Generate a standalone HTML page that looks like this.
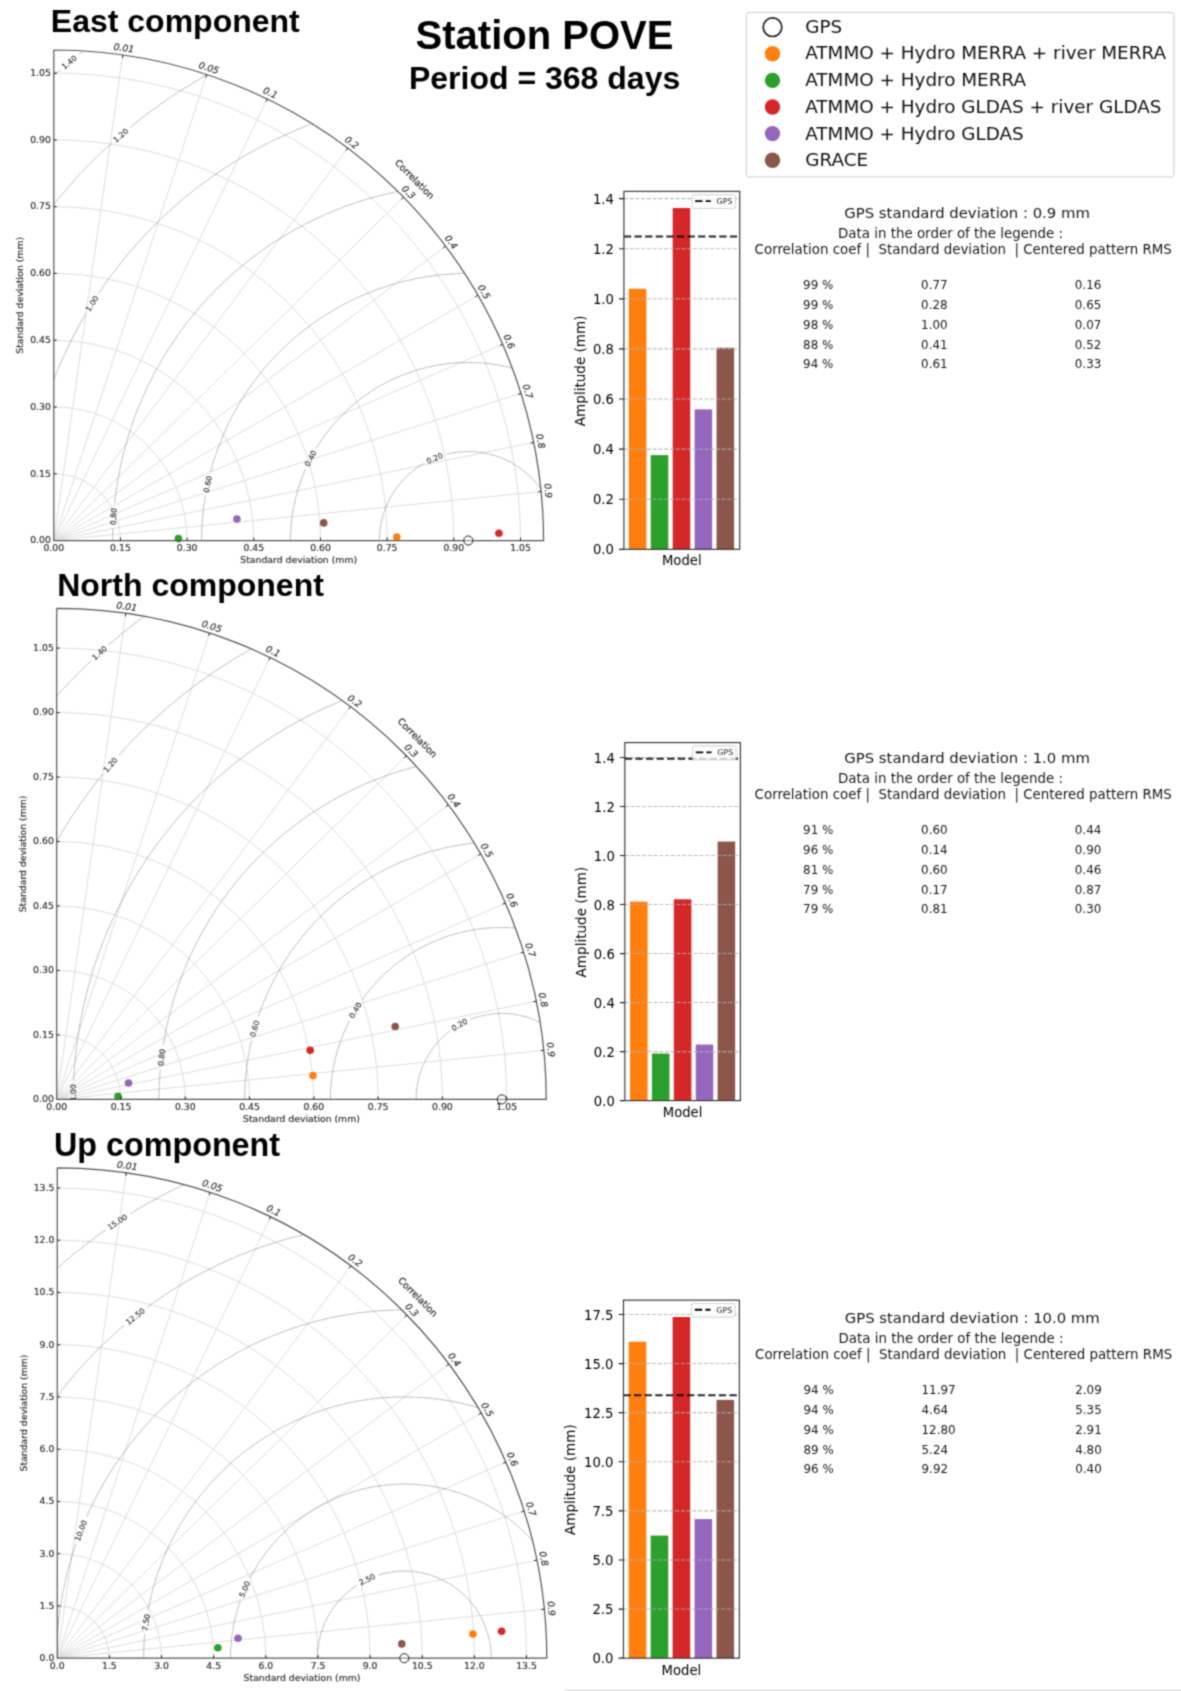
<!DOCTYPE html>
<html><head><meta charset="utf-8"><title>Station POVE</title>
<style>html,body{margin:0;padding:0;background:#fff}svg{display:block}</style></head>
<body>
<svg width="1181" height="1691" viewBox="0 0 1181 1691" font-family='"DejaVu Sans","Liberation Sans",sans-serif'>
<rect width="1181" height="1691" fill="#fff"/>
<filter id="bl" x="0" y="0" width="100%" height="100%" filterUnits="userSpaceOnUse" color-interpolation-filters="sRGB"><feConvolveMatrix order="3" kernelMatrix="0.04000 0.12000 0.04000 0.12000 0.36000 0.12000 0.04000 0.12000 0.04000" divisor="1" edgeMode="duplicate" preserveAlpha="true"/></filter>
<g filter="url(#bl)">
<rect x="-5" y="-5" width="1191" height="1701" fill="#fff"/>
<g font-family='"Liberation Sans","DejaVu Sans",sans-serif' font-weight="bold" fill="#000">
<text x="50.8" y="31.8" font-size="32">East component</text>
<text x="57.2" y="595.95" font-size="32">North component</text>
<text x="54.0" y="1156.4" font-size="32.3">Up component</text>
<text x="544.5" y="48.9" font-size="40" text-anchor="middle">Station POVE</text>
<text x="544.6" y="88.9" font-size="32" text-anchor="middle">Period = 368 days</text>
</g>
<clipPath id="c1"><path d="M53.8 540.6 L543.55 540.6 A489.75 490.6 0 0 0 53.8 50 Z"/></clipPath>
<path d="M53.8 540.6L122.89 54.91M53.8 540.6L206.72 74.53M53.8 540.6L267.28 99.06M53.8 540.6L347.65 148.12M53.8 540.6L403.55 197.18M53.8 540.6L445.6 246.24M53.8 540.6L477.94 295.3M53.8 540.6L502.66 344.36M53.8 540.6L520.99 393.42M53.8 540.6L533.66 442.48M53.8 540.6L541.1 491.54M120.47 540.6A66.67 66.79 0 0 0 53.8 473.81M187.15 540.6A133.35 133.57 0 0 0 53.8 407.03M253.82 540.6A200.02 200.36 0 0 0 53.8 340.24M320.5 540.6A266.7 267.14 0 0 0 53.8 273.46M387.18 540.6A333.38 333.93 0 0 0 53.8 206.67M453.85 540.6A400.05 400.72 0 0 0 53.8 139.88M520.52 540.6A466.73 467.5 0 0 0 53.8 73.1" fill="none" stroke="#dedede" stroke-width="1"/>
<g clip-path="url(#c1)" fill="none" stroke="#7a7a7a" stroke-width="0.75" stroke-dasharray="1.5 0.8">
<path d="M557.2 540.6A88.9 89.05 0 0 0 446.27 454.33M423.55 463.66A88.9 89.05 0 0 0 379.4 540.6"/>
<path d="M646.1 540.6A177.8 178.1 0 0 0 316.63 447.66M305.27 469.53A177.8 178.1 0 0 0 290.5 540.6"/>
<path d="M735 540.6A266.7 267.14 0 0 0 210.51 472.12M205.3 496.23A266.7 267.14 0 0 0 201.6 540.6"/>
<path d="M823.9 540.6A355.6 356.19 0 0 0 114.56 504.23M112.89 528.85A355.6 356.19 0 0 0 112.7 540.6"/>
<path d="M912.8 540.6A444.5 445.24 0 0 0 98.72 293.22M85.61 314.11A444.5 445.24 0 0 0 23.8 540.6"/>
<path d="M1001.7 540.6A533.4 534.29 0 0 0 130.16 127.39M111.47 143.47A533.4 534.29 0 0 0 -65.1 540.6"/>
<path d="M1090.6 540.6A622.3 623.34 0 0 0 78.8 54.46M59.89 70.29A622.3 623.34 0 0 0 -154 540.6"/>
</g>
<g clip-path="url(#c1)" font-size="7.6" fill="#333" stroke="#333" stroke-width="0.15" text-anchor="middle">
<text x="434.59" y="458.2" transform="rotate(-22.29 434.59 458.2)" dy="2.7">0.20</text>
<text x="310.57" y="458.4" transform="rotate(-62.51 310.57 458.4)" dy="2.7">0.40</text>
<text x="207.63" y="484.11" transform="rotate(-77.79 207.63 484.11)" dy="2.7">0.60</text>
<text x="113.51" y="516.52" transform="rotate(-86.12 113.51 516.52)" dy="2.7">0.80</text>
<text x="92.02" y="303.58" transform="rotate(-57.84 92.02 303.58)" dy="2.7">1.00</text>
<text x="120.72" y="135.32" transform="rotate(-40.66 120.72 135.32)" dy="2.7">1.20</text>
<text x="69.27" y="62.28" transform="rotate(-39.88 69.27 62.28)" dy="2.7">1.40</text>
</g>
<circle cx="178.4" cy="538.6" r="3.8" fill="#2ca02c"/>
<circle cx="236.9" cy="519.1" r="3.8" fill="#9467bd"/>
<circle cx="323.7" cy="522.9" r="3.8" fill="#8c564b"/>
<circle cx="396.8" cy="537" r="3.8" fill="#ff7f0e"/>
<circle cx="498.9" cy="533.2" r="3.8" fill="#d62728"/>
<path d="M53.8 50L53.8 540.6L543.55 540.6A489.75 490.6 0 0 0 53.8 50" fill="none" stroke="#555" stroke-width="1.2" stroke-linejoin="miter"/>
<path d="M120.47 540.6v-3M53.8 473.81h3M187.15 540.6v-3M53.8 407.03h3M253.82 540.6v-3M53.8 340.24h3M320.5 540.6v-3M53.8 273.46h3M387.18 540.6v-3M53.8 206.67h3M453.85 540.6v-3M53.8 139.88h3M520.52 540.6v-3M53.8 73.1h3M122.89 54.91L122.46 57.88M206.72 74.53L205.79 77.38M267.28 99.06L265.97 101.76M347.65 148.12L345.85 150.52M403.55 197.18L401.41 199.28M445.6 246.24L443.2 248.04M477.94 295.3L475.34 296.8M502.66 344.36L499.91 345.56M520.99 393.42L518.13 394.32M533.66 442.48L530.72 443.08M541.1 491.54L538.11 491.84" fill="none" stroke="#222" stroke-width="1"/>
<g font-size="9.3" fill="#333" stroke="#333" stroke-width="0.2">
<text x="53.8" y="551.45" text-anchor="middle">0.00</text>
<text x="50.9" y="543.4" text-anchor="end">0.00</text>
<text x="120.47" y="551.45" text-anchor="middle">0.15</text>
<text x="50.9" y="476.61" text-anchor="end">0.15</text>
<text x="187.15" y="551.45" text-anchor="middle">0.30</text>
<text x="50.9" y="409.83" text-anchor="end">0.30</text>
<text x="253.82" y="551.45" text-anchor="middle">0.45</text>
<text x="50.9" y="343.04" text-anchor="end">0.45</text>
<text x="320.5" y="551.45" text-anchor="middle">0.60</text>
<text x="50.9" y="276.26" text-anchor="end">0.60</text>
<text x="387.18" y="551.45" text-anchor="middle">0.75</text>
<text x="50.9" y="209.47" text-anchor="end">0.75</text>
<text x="453.85" y="551.45" text-anchor="middle">0.90</text>
<text x="50.9" y="142.68" text-anchor="end">0.90</text>
<text x="520.52" y="551.45" text-anchor="middle">1.05</text>
<text x="50.9" y="75.9" text-anchor="end">1.05</text>
<text x="123.88" y="47.98" transform="rotate(8.11 123.88 47.98)" text-anchor="middle" dy="3.2" font-style="oblique">0.01</text>
<text x="208.91" y="67.88" transform="rotate(18.19 208.91 67.88)" text-anchor="middle" dy="3.2" font-style="oblique">0.05</text>
<text x="270.33" y="92.76" transform="rotate(25.84 270.33 92.76)" text-anchor="middle" dy="3.2" font-style="oblique">0.1</text>
<text x="351.85" y="142.52" transform="rotate(36.87 351.85 142.52)" text-anchor="middle" dy="3.2" font-style="oblique">0.2</text>
<text x="408.55" y="192.28" transform="rotate(45.57 408.55 192.28)" text-anchor="middle" dy="3.2" font-style="oblique">0.3</text>
<text x="451.2" y="242.04" transform="rotate(53.13 451.2 242.04)" text-anchor="middle" dy="3.2" font-style="oblique">0.4</text>
<text x="484" y="291.8" transform="rotate(60 484 291.8)" text-anchor="middle" dy="3.2" font-style="oblique">0.5</text>
<text x="509.08" y="341.56" transform="rotate(66.42 509.08 341.56)" text-anchor="middle" dy="3.2" font-style="oblique">0.6</text>
<text x="527.67" y="391.32" transform="rotate(72.54 527.67 391.32)" text-anchor="middle" dy="3.2" font-style="oblique">0.7</text>
<text x="540.51" y="441.08" transform="rotate(78.46 540.51 441.08)" text-anchor="middle" dy="3.2" font-style="oblique">0.8</text>
<text x="548.06" y="490.84" transform="rotate(84.26 548.06 490.84)" text-anchor="middle" dy="3.2" font-style="oblique">0.9</text>
<text x="414.6" y="179.2" transform="rotate(45 414.6 179.2)" text-anchor="middle" dy="3.2">Correlation</text>
<text x="298.68" y="563.2" text-anchor="middle">Standard deviation (mm)</text>
<text x="23.2" y="295.3" transform="rotate(-90 23.2 295.3)" text-anchor="middle">Standard deviation (mm)</text>
</g>
<circle cx="468.3" cy="540.5" r="4.55" fill="#fff" fill-opacity="0.35" stroke="#222" stroke-width="1"/>
<clipPath id="c2"><path d="M56.7 1099.4 L546.25 1099.4 A489.55 490.95 0 0 0 56.7 608.45 Z"/></clipPath>
<path d="M56.7 1099.4L125.76 613.36M56.7 1099.4L209.56 633M56.7 1099.4L270.09 657.55M56.7 1099.4L350.43 706.64M56.7 1099.4L406.31 755.74M56.7 1099.4L448.34 804.83M56.7 1099.4L480.66 853.93M56.7 1099.4L505.38 903.02M56.7 1099.4L523.7 952.12M56.7 1099.4L536.36 1001.21M56.7 1099.4L543.8 1050.31M120.99 1099.4A64.29 64.47 0 0 0 56.7 1034.93M185.27 1099.4A128.57 128.94 0 0 0 56.7 970.46M249.56 1099.4A192.86 193.41 0 0 0 56.7 905.99M313.84 1099.4A257.14 257.88 0 0 0 56.7 841.52M378.13 1099.4A321.43 322.35 0 0 0 56.7 777.05M442.41 1099.4A385.71 386.82 0 0 0 56.7 712.58M506.7 1099.4A450 451.29 0 0 0 56.7 648.11" fill="none" stroke="#dedede" stroke-width="1"/>
<g clip-path="url(#c2)" fill="none" stroke="#7a7a7a" stroke-width="0.75" stroke-dasharray="1.5 0.8">
<path d="M587.56 1099.4A85.71 85.96 0 0 0 470.66 1019.33M449.3 1031.49A85.71 85.96 0 0 0 416.14 1099.4"/>
<path d="M673.28 1099.4A171.43 171.92 0 0 0 362.01 999.95M349.25 1021.06A171.43 171.92 0 0 0 330.42 1099.4"/>
<path d="M758.99 1099.4A257.14 257.88 0 0 0 258.21 1016.93M251.46 1040.69A257.14 257.88 0 0 0 244.71 1099.4"/>
<path d="M844.71 1099.4A342.86 343.84 0 0 0 163.28 1045.19M160.27 1069.71A342.86 343.84 0 0 0 158.99 1099.4"/>
<path d="M930.42 1099.4A428.57 429.8 0 0 0 73.71 1080.26M73.32 1104.96A428.57 429.8 0 0 0 73.28 1099.4"/>
<path d="M1016.13 1099.4A514.28 515.76 0 0 0 118.51 755.58M102.53 774.39A514.28 515.76 0 0 0 -12.43 1099.4"/>
<path d="M1101.85 1099.4A600 601.72 0 0 0 108.72 644.83M90.45 661.4A600 601.72 0 0 0 -98.15 1099.4"/>
</g>
<g clip-path="url(#c2)" font-size="7.6" fill="#333" stroke="#333" stroke-width="0.15" text-anchor="middle">
<text x="459.54" y="1024.64" transform="rotate(-29.57 459.54 1024.64)" dy="2.7">0.20</text>
<text x="355.26" y="1010.28" transform="rotate(-58.78 355.26 1010.28)" dy="2.7">0.40</text>
<text x="254.55" y="1028.73" transform="rotate(-74.09 254.55 1028.73)" dy="2.7">0.60</text>
<text x="161.56" y="1057.42" transform="rotate(-82.99 161.56 1057.42)" dy="2.7">0.80</text>
<text x="73.33" y="1092.61" transform="rotate(-89.09 73.33 1092.61)" dy="2.7">1.00</text>
<text x="110.4" y="764.89" transform="rotate(-49.57 110.4 764.89)" dy="2.7">1.20</text>
<text x="99.5" y="653.02" transform="rotate(-42.11 99.5 653.02)" dy="2.7">1.40</text>
</g>
<circle cx="118" cy="1096.4" r="3.8" fill="#2ca02c"/>
<circle cx="128.5" cy="1083" r="3.8" fill="#9467bd"/>
<circle cx="395.2" cy="1026.5" r="3.8" fill="#8c564b"/>
<circle cx="313" cy="1075.6" r="3.8" fill="#ff7f0e"/>
<circle cx="310.2" cy="1050.3" r="3.8" fill="#d62728"/>
<path d="M56.7 608.45L56.7 1099.4L546.25 1099.4A489.55 490.95 0 0 0 56.7 608.45" fill="none" stroke="#555" stroke-width="1.2" stroke-linejoin="miter"/>
<path d="M120.99 1099.4v-3M56.7 1034.93h3M185.27 1099.4v-3M56.7 970.46h3M249.56 1099.4v-3M56.7 905.99h3M313.84 1099.4v-3M56.7 841.52h3M378.13 1099.4v-3M56.7 777.05h3M442.41 1099.4v-3M56.7 712.58h3M506.7 1099.4v-3M56.7 648.11h3M125.76 613.36L125.34 616.33M209.56 633L208.63 635.85M270.09 657.55L268.78 660.25M350.43 706.64L348.63 709.04M406.31 755.74L404.17 757.84M448.34 804.83L445.94 806.63M480.66 853.93L478.06 855.43M505.38 903.02L502.63 904.22M523.7 952.12L520.84 953.02M536.36 1001.21L533.42 1001.81M543.8 1050.31L540.81 1050.61" fill="none" stroke="#222" stroke-width="1"/>
<g font-size="9.3" fill="#333" stroke="#333" stroke-width="0.2">
<text x="56.7" y="1110.25" text-anchor="middle">0.00</text>
<text x="53.8" y="1102.2" text-anchor="end">0.00</text>
<text x="120.99" y="1110.25" text-anchor="middle">0.15</text>
<text x="53.8" y="1037.73" text-anchor="end">0.15</text>
<text x="185.27" y="1110.25" text-anchor="middle">0.30</text>
<text x="53.8" y="973.26" text-anchor="end">0.30</text>
<text x="249.56" y="1110.25" text-anchor="middle">0.45</text>
<text x="53.8" y="908.79" text-anchor="end">0.45</text>
<text x="313.84" y="1110.25" text-anchor="middle">0.60</text>
<text x="53.8" y="844.32" text-anchor="end">0.60</text>
<text x="378.13" y="1110.25" text-anchor="middle">0.75</text>
<text x="53.8" y="779.85" text-anchor="end">0.75</text>
<text x="442.41" y="1110.25" text-anchor="middle">0.90</text>
<text x="53.8" y="715.38" text-anchor="end">0.90</text>
<text x="506.7" y="1110.25" text-anchor="middle">1.05</text>
<text x="53.8" y="650.91" text-anchor="end">1.05</text>
<text x="126.75" y="606.43" transform="rotate(8.11 126.75 606.43)" text-anchor="middle" dy="3.2" font-style="oblique">0.01</text>
<text x="211.75" y="626.35" transform="rotate(18.19 211.75 626.35)" text-anchor="middle" dy="3.2" font-style="oblique">0.05</text>
<text x="273.14" y="651.25" transform="rotate(25.84 273.14 651.25)" text-anchor="middle" dy="3.2" font-style="oblique">0.1</text>
<text x="354.63" y="701.04" transform="rotate(36.87 354.63 701.04)" text-anchor="middle" dy="3.2" font-style="oblique">0.2</text>
<text x="411.31" y="750.84" transform="rotate(45.57 411.31 750.84)" text-anchor="middle" dy="3.2" font-style="oblique">0.3</text>
<text x="453.94" y="800.63" transform="rotate(53.13 453.94 800.63)" text-anchor="middle" dy="3.2" font-style="oblique">0.4</text>
<text x="486.72" y="850.43" transform="rotate(60 486.72 850.43)" text-anchor="middle" dy="3.2" font-style="oblique">0.5</text>
<text x="511.8" y="900.22" transform="rotate(66.42 511.8 900.22)" text-anchor="middle" dy="3.2" font-style="oblique">0.6</text>
<text x="530.38" y="950.02" transform="rotate(72.54 530.38 950.02)" text-anchor="middle" dy="3.2" font-style="oblique">0.7</text>
<text x="543.22" y="999.81" transform="rotate(78.46 543.22 999.81)" text-anchor="middle" dy="3.2" font-style="oblique">0.8</text>
<text x="550.76" y="1049.61" transform="rotate(84.26 550.76 1049.61)" text-anchor="middle" dy="3.2" font-style="oblique">0.9</text>
<text x="417.36" y="737.75" transform="rotate(45 417.36 737.75)" text-anchor="middle" dy="3.2">Correlation</text>
<text x="301.48" y="1122" text-anchor="middle">Standard deviation (mm)</text>
<text x="26.1" y="853.93" transform="rotate(-90 26.1 853.93)" text-anchor="middle">Standard deviation (mm)</text>
</g>
<circle cx="501.85" cy="1099.4" r="4.55" fill="#fff" fill-opacity="0.35" stroke="#222" stroke-width="1"/>
<clipPath id="c3"><path d="M57.25 1658.2 L546.8 1658.2 A489.55 490.35 0 0 0 57.25 1167.85 Z"/></clipPath>
<path d="M57.25 1658.2L126.31 1172.75M57.25 1658.2L210.11 1192.37M57.25 1658.2L270.64 1216.88M57.25 1658.2L350.98 1265.92M57.25 1658.2L406.86 1314.95M57.25 1658.2L448.89 1363.99M57.25 1658.2L481.21 1413.03M57.25 1658.2L505.93 1462.06M57.25 1658.2L524.25 1511.1M57.25 1658.2L536.91 1560.13M57.25 1658.2L544.35 1609.16M109.39 1658.2A52.14 52.24 0 0 0 57.25 1605.96M161.53 1658.2A104.28 104.49 0 0 0 57.25 1553.71M213.67 1658.2A156.42 156.73 0 0 0 57.25 1501.47M265.81 1658.2A208.56 208.98 0 0 0 57.25 1449.22M317.95 1658.2A260.7 261.22 0 0 0 57.25 1396.98M370.09 1658.2A312.84 313.47 0 0 0 57.25 1344.73M422.23 1658.2A364.98 365.71 0 0 0 57.25 1292.49M474.37 1658.2A417.12 417.96 0 0 0 57.25 1240.24M526.51 1658.2A469.26 470.2 0 0 0 57.25 1188" fill="none" stroke="#dedede" stroke-width="1"/>
<g clip-path="url(#c3)" fill="none" stroke="#7a7a7a" stroke-width="0.75" stroke-dasharray="1.5 0.8">
<path d="M491.2 1658.2A86.9 87.07 0 0 0 378.65 1575M356.45 1585.52A86.9 87.07 0 0 0 317.4 1658.2"/>
<path d="M578.1 1658.2A173.8 174.15 0 0 0 250 1578.05M240.25 1600.7A173.8 174.15 0 0 0 230.5 1658.2"/>
<path d="M665 1658.2A260.7 261.22 0 0 0 148.03 1610.22M144.66 1634.67A260.7 261.22 0 0 0 143.6 1658.2"/>
<path d="M751.9 1658.2A347.6 348.3 0 0 0 86.52 1517.06M75.82 1544.27A347.6 348.3 0 0 0 56.7 1658.2"/>
<path d="M838.8 1658.2A434.5 435.38 0 0 0 146.9 1307.45M123.97 1325.56A434.5 435.38 0 0 0 -30.2 1658.2"/>
<path d="M925.7 1658.2A521.4 522.45 0 0 0 129.7 1214.08M105.32 1230.17A521.4 522.45 0 0 0 -117.1 1658.2"/>
</g>
<g clip-path="url(#c3)" font-size="7.6" fill="#333" stroke="#333" stroke-width="0.15" text-anchor="middle">
<text x="367.18" y="1579.47" transform="rotate(-25.29 367.18 1579.47)" dy="2.7">2.50</text>
<text x="244.72" y="1589.2" transform="rotate(-66.66 244.72 1589.2)" dy="2.7">5.00</text>
<text x="146.06" y="1622.41" transform="rotate(-82.12 146.06 1622.41)" dy="2.7">7.50</text>
<text x="80.89" y="1530.55" transform="rotate(-68.5 80.89 1530.55)" dy="2.7">10.00</text>
<text x="135.28" y="1316.31" transform="rotate(-38.25 135.28 1316.31)" dy="2.7">12.50</text>
<text x="117.4" y="1221.95" transform="rotate(-33.38 117.4 1221.95)" dy="2.7">15.00</text>
</g>
<circle cx="217.9" cy="1647.7" r="3.8" fill="#2ca02c"/>
<circle cx="238" cy="1638.3" r="3.8" fill="#9467bd"/>
<circle cx="401.8" cy="1643.9" r="3.8" fill="#8c564b"/>
<circle cx="472.9" cy="1634" r="3.8" fill="#ff7f0e"/>
<circle cx="501.6" cy="1631.2" r="3.8" fill="#d62728"/>
<path d="M57.25 1167.85L57.25 1658.2L546.8 1658.2A489.55 490.35 0 0 0 57.25 1167.85" fill="none" stroke="#555" stroke-width="1.2" stroke-linejoin="miter"/>
<path d="M109.39 1658.2v-3M57.25 1605.96h3M161.53 1658.2v-3M57.25 1553.71h3M213.67 1658.2v-3M57.25 1501.47h3M265.81 1658.2v-3M57.25 1449.22h3M317.95 1658.2v-3M57.25 1396.98h3M370.09 1658.2v-3M57.25 1344.73h3M422.23 1658.2v-3M57.25 1292.49h3M474.37 1658.2v-3M57.25 1240.24h3M526.51 1658.2v-3M57.25 1188h3M126.31 1172.75L125.89 1175.72M210.11 1192.37L209.18 1195.22M270.64 1216.88L269.33 1219.59M350.98 1265.92L349.18 1268.32M406.86 1314.95L404.72 1317.06M448.89 1363.99L446.49 1365.79M481.21 1413.03L478.61 1414.53M505.93 1462.06L503.18 1463.26M524.25 1511.1L521.39 1511.99M536.91 1560.13L533.97 1560.73M544.35 1609.16L541.36 1609.47" fill="none" stroke="#222" stroke-width="1"/>
<g font-size="9.3" fill="#333" stroke="#333" stroke-width="0.2">
<text x="57.25" y="1669.05" text-anchor="middle">0.0</text>
<text x="54.35" y="1661" text-anchor="end">0.0</text>
<text x="109.39" y="1669.05" text-anchor="middle">1.5</text>
<text x="54.35" y="1608.76" text-anchor="end">1.5</text>
<text x="161.53" y="1669.05" text-anchor="middle">3.0</text>
<text x="54.35" y="1556.51" text-anchor="end">3.0</text>
<text x="213.67" y="1669.05" text-anchor="middle">4.5</text>
<text x="54.35" y="1504.27" text-anchor="end">4.5</text>
<text x="265.81" y="1669.05" text-anchor="middle">6.0</text>
<text x="54.35" y="1452.02" text-anchor="end">6.0</text>
<text x="317.95" y="1669.05" text-anchor="middle">7.5</text>
<text x="54.35" y="1399.78" text-anchor="end">7.5</text>
<text x="370.09" y="1669.05" text-anchor="middle">9.0</text>
<text x="54.35" y="1347.53" text-anchor="end">9.0</text>
<text x="422.23" y="1669.05" text-anchor="middle">10.5</text>
<text x="54.35" y="1295.29" text-anchor="end">10.5</text>
<text x="474.37" y="1669.05" text-anchor="middle">12.0</text>
<text x="54.35" y="1243.04" text-anchor="end">12.0</text>
<text x="526.51" y="1669.05" text-anchor="middle">13.5</text>
<text x="54.35" y="1190.8" text-anchor="end">13.5</text>
<text x="127.3" y="1165.82" transform="rotate(8.11 127.3 1165.82)" text-anchor="middle" dy="3.2" font-style="oblique">0.01</text>
<text x="212.3" y="1185.72" transform="rotate(18.19 212.3 1185.72)" text-anchor="middle" dy="3.2" font-style="oblique">0.05</text>
<text x="273.69" y="1210.59" transform="rotate(25.84 273.69 1210.59)" text-anchor="middle" dy="3.2" font-style="oblique">0.1</text>
<text x="355.18" y="1260.32" transform="rotate(36.87 355.18 1260.32)" text-anchor="middle" dy="3.2" font-style="oblique">0.2</text>
<text x="411.86" y="1310.06" transform="rotate(45.57 411.86 1310.06)" text-anchor="middle" dy="3.2" font-style="oblique">0.3</text>
<text x="454.49" y="1359.79" transform="rotate(53.13 454.49 1359.79)" text-anchor="middle" dy="3.2" font-style="oblique">0.4</text>
<text x="487.27" y="1409.53" transform="rotate(60 487.27 1409.53)" text-anchor="middle" dy="3.2" font-style="oblique">0.5</text>
<text x="512.35" y="1459.26" transform="rotate(66.42 512.35 1459.26)" text-anchor="middle" dy="3.2" font-style="oblique">0.6</text>
<text x="530.93" y="1508.99" transform="rotate(72.54 530.93 1508.99)" text-anchor="middle" dy="3.2" font-style="oblique">0.7</text>
<text x="543.77" y="1558.73" transform="rotate(78.46 543.77 1558.73)" text-anchor="middle" dy="3.2" font-style="oblique">0.8</text>
<text x="551.31" y="1608.47" transform="rotate(84.26 551.31 1608.47)" text-anchor="middle" dy="3.2" font-style="oblique">0.9</text>
<text x="417.91" y="1296.97" transform="rotate(45 417.91 1296.97)" text-anchor="middle" dy="3.2">Correlation</text>
<text x="302.02" y="1680.8" text-anchor="middle">Standard deviation (mm)</text>
<text x="26.65" y="1413.03" transform="rotate(-90 26.65 1413.03)" text-anchor="middle">Standard deviation (mm)</text>
</g>
<circle cx="404.3" cy="1658.2" r="4.55" fill="#fff" fill-opacity="0.35" stroke="#222" stroke-width="1"/>
<rect x="628.81" y="288.78" width="17.55" height="260.52" fill="#ff7f0e"/>
<rect x="650.75" y="455.11" width="17.55" height="94.19" fill="#2ca02c"/>
<rect x="672.68" y="208.02" width="17.55" height="341.28" fill="#d62728"/>
<rect x="694.61" y="409.37" width="17.55" height="139.93" fill="#9467bd"/>
<rect x="716.54" y="347.77" width="17.55" height="201.53" fill="#8c564b"/>
<path d="M623.9 499.2H739.7M623.9 449.1H739.7M623.9 399H739.7M623.9 348.9H739.7M623.9 298.8H739.7M623.9 248.7H739.7M623.9 198.6H739.7" stroke="#b0b0b0" stroke-opacity="0.85" stroke-width="1.1" stroke-dasharray="4 1.75" fill="none"/>
<path d="M623.9 236.43H739.7" stroke="#000" stroke-opacity="0.85" stroke-width="2" stroke-dasharray="7.3 3.3" fill="none"/>
<rect x="692" y="194.8" width="43.4" height="13.6" rx="1.8" fill="#fff" fill-opacity="0.8" stroke="#d0d0d0" stroke-width="1"/>
<path d="M695.1 201.15h15.7" stroke="#000" stroke-width="1.9" stroke-dasharray="7.4 3.2" fill="none"/>
<text x="716.6" y="203.95" font-size="7.9" fill="#222">GPS</text>
<rect x="623.9" y="191.35" width="115.8" height="357.95" fill="none" stroke="#333" stroke-width="1.15"/>
<path d="M623.9 549.3h-4.9M623.9 499.2h-4.9M623.9 449.1h-4.9M623.9 399h-4.9M623.9 348.9h-4.9M623.9 298.8h-4.9M623.9 248.7h-4.9M623.9 198.6h-4.9" stroke="#222" stroke-width="1.15" fill="none"/>
<g font-size="13.2" fill="#000">
<text x="613.9" y="554.35" text-anchor="end">0.0</text>
<text x="613.9" y="504.25" text-anchor="end">0.2</text>
<text x="613.9" y="454.15" text-anchor="end">0.4</text>
<text x="613.9" y="404.05" text-anchor="end">0.6</text>
<text x="613.9" y="353.95" text-anchor="end">0.8</text>
<text x="613.9" y="303.85" text-anchor="end">1.0</text>
<text x="613.9" y="253.75" text-anchor="end">1.2</text>
<text x="613.9" y="203.65" text-anchor="end">1.4</text>
<text x="681.8" y="565.4" text-anchor="middle">Model</text>
<text x="585" y="370.82" transform="rotate(-90 585 370.82)" text-anchor="middle" font-size="13.55">Amplitude (mm)</text>
</g>
<rect x="630.05" y="901.6" width="17.52" height="199" fill="#ff7f0e"/>
<rect x="651.95" y="1053.55" width="17.52" height="47.05" fill="#2ca02c"/>
<rect x="673.84" y="899.27" width="17.52" height="201.33" fill="#d62728"/>
<rect x="695.74" y="1044.58" width="17.52" height="56.02" fill="#9467bd"/>
<rect x="717.63" y="841.56" width="17.52" height="259.04" fill="#8c564b"/>
<path d="M624.8 1051.59H740.4M624.8 1002.57H740.4M624.8 953.56H740.4M624.8 904.54H740.4M624.8 855.53H740.4M624.8 806.52H740.4M624.8 757.5H740.4" stroke="#b0b0b0" stroke-opacity="0.85" stroke-width="1.1" stroke-dasharray="4 1.75" fill="none"/>
<path d="M624.8 758.8H740.4" stroke="#000" stroke-opacity="0.85" stroke-width="2" stroke-dasharray="7.3 3.3" fill="none"/>
<rect x="692.7" y="745.9" width="43.4" height="13.9" rx="1.8" fill="#fff" fill-opacity="0.8" stroke="#d0d0d0" stroke-width="1"/>
<path d="M695.8 752.4h15.7" stroke="#000" stroke-width="1.9" stroke-dasharray="7.4 3.2" fill="none"/>
<text x="717.3" y="755.2" font-size="7.9" fill="#222">GPS</text>
<rect x="624.8" y="742.55" width="115.6" height="358.05" fill="none" stroke="#333" stroke-width="1.15"/>
<path d="M624.8 1100.6h-4.9M624.8 1051.59h-4.9M624.8 1002.57h-4.9M624.8 953.56h-4.9M624.8 904.54h-4.9M624.8 855.53h-4.9M624.8 806.52h-4.9M624.8 757.5h-4.9" stroke="#222" stroke-width="1.15" fill="none"/>
<g font-size="13.2" fill="#000">
<text x="614.8" y="1105.65" text-anchor="end">0.0</text>
<text x="614.8" y="1056.64" text-anchor="end">0.2</text>
<text x="614.8" y="1007.62" text-anchor="end">0.4</text>
<text x="614.8" y="958.61" text-anchor="end">0.6</text>
<text x="614.8" y="909.59" text-anchor="end">0.8</text>
<text x="614.8" y="860.58" text-anchor="end">1.0</text>
<text x="614.8" y="811.57" text-anchor="end">1.2</text>
<text x="614.8" y="762.55" text-anchor="end">1.4</text>
<text x="682.6" y="1117.2" text-anchor="middle">Model</text>
<text x="585.9" y="922.07" transform="rotate(-90 585.9 922.07)" text-anchor="middle" font-size="13.55">Amplitude (mm)</text>
</g>
<rect x="628.72" y="1341.75" width="17.56" height="316.4" fill="#ff7f0e"/>
<rect x="650.67" y="1535.6" width="17.56" height="122.55" fill="#2ca02c"/>
<rect x="672.62" y="1317" width="17.56" height="341.15" fill="#d62728"/>
<rect x="694.57" y="1519.1" width="17.56" height="139.05" fill="#9467bd"/>
<rect x="716.52" y="1399.88" width="17.56" height="258.27" fill="#8c564b"/>
<path d="M623.45 1609.05H739.35M623.45 1559.95H739.35M623.45 1510.85H739.35M623.45 1461.75H739.35M623.45 1412.65H739.35M623.45 1363.55H739.35M623.45 1314.45H739.35" stroke="#b0b0b0" stroke-opacity="0.85" stroke-width="1.1" stroke-dasharray="4 1.75" fill="none"/>
<path d="M623.45 1395.17H739.35" stroke="#000" stroke-opacity="0.85" stroke-width="2" stroke-dasharray="7.3 3.3" fill="none"/>
<rect x="691.7" y="1303.4" width="43.2" height="13.7" rx="1.8" fill="#fff" fill-opacity="0.8" stroke="#d0d0d0" stroke-width="1"/>
<path d="M694.8 1309.8h15.7" stroke="#000" stroke-width="1.9" stroke-dasharray="7.4 3.2" fill="none"/>
<text x="716.3" y="1312.6" font-size="7.9" fill="#222">GPS</text>
<rect x="623.45" y="1300.15" width="115.9" height="358" fill="none" stroke="#333" stroke-width="1.15"/>
<path d="M623.45 1658.15h-4.9M623.45 1609.05h-4.9M623.45 1559.95h-4.9M623.45 1510.85h-4.9M623.45 1461.75h-4.9M623.45 1412.65h-4.9M623.45 1363.55h-4.9M623.45 1314.45h-4.9" stroke="#222" stroke-width="1.15" fill="none"/>
<g font-size="13.2" fill="#000">
<text x="613.45" y="1662.6" text-anchor="end">0.0</text>
<text x="613.45" y="1614.1" text-anchor="end">2.5</text>
<text x="613.45" y="1565" text-anchor="end">5.0</text>
<text x="613.45" y="1515.9" text-anchor="end">7.5</text>
<text x="613.45" y="1466.8" text-anchor="end">10.0</text>
<text x="613.45" y="1417.7" text-anchor="end">12.5</text>
<text x="613.45" y="1368.6" text-anchor="end">15.0</text>
<text x="613.45" y="1319.5" text-anchor="end">17.5</text>
<text x="681.4" y="1674.6" text-anchor="middle">Model</text>
<text x="575.15" y="1479.65" transform="rotate(-90 575.15 1479.65)" text-anchor="middle" font-size="13.55">Amplitude (mm)</text>
</g>
<g fill="#1a1a1a" transform="translate(0 0)">
<text x="844.3" y="218" font-size="14.83">GPS standard deviation : 0.9 mm</text>
<text x="838.0" y="237.9" font-size="13.4">Data in the order of the legende :</text>
<text x="754.6" y="253.7" font-size="13.4" xml:space="preserve">Correlation coef |  Standard deviation  | Centered pattern RMS</text>
<text x="803.1" y="289.2" font-size="11.9">99 %</text>
<text x="921.1" y="289.2" font-size="11.9">0.77</text>
<text x="1074.8" y="289.2" font-size="11.9">0.16</text>
<text x="803.1" y="309" font-size="11.9">99 %</text>
<text x="921.1" y="309" font-size="11.9">0.28</text>
<text x="1074.8" y="309" font-size="11.9">0.65</text>
<text x="803.1" y="328.8" font-size="11.9">98 %</text>
<text x="921.1" y="328.8" font-size="11.9">1.00</text>
<text x="1074.8" y="328.8" font-size="11.9">0.07</text>
<text x="803.1" y="348.6" font-size="11.9">88 %</text>
<text x="921.1" y="348.6" font-size="11.9">0.41</text>
<text x="1074.8" y="348.6" font-size="11.9">0.52</text>
<text x="803.1" y="368.4" font-size="11.9">94 %</text>
<text x="921.1" y="368.4" font-size="11.9">0.61</text>
<text x="1074.8" y="368.4" font-size="11.9">0.33</text>
</g>
<g fill="#1a1a1a" transform="translate(0 0)">
<text x="844.3" y="763" font-size="14.83">GPS standard deviation : 1.0 mm</text>
<text x="838.0" y="782.9" font-size="13.4">Data in the order of the legende :</text>
<text x="754.6" y="798.7" font-size="13.4" xml:space="preserve">Correlation coef |  Standard deviation  | Centered pattern RMS</text>
<text x="803.1" y="834.2" font-size="11.9">91 %</text>
<text x="921.1" y="834.2" font-size="11.9">0.60</text>
<text x="1074.8" y="834.2" font-size="11.9">0.44</text>
<text x="803.1" y="854" font-size="11.9">96 %</text>
<text x="921.1" y="854" font-size="11.9">0.14</text>
<text x="1074.8" y="854" font-size="11.9">0.90</text>
<text x="803.1" y="873.8" font-size="11.9">81 %</text>
<text x="921.1" y="873.8" font-size="11.9">0.60</text>
<text x="1074.8" y="873.8" font-size="11.9">0.46</text>
<text x="803.1" y="893.6" font-size="11.9">79 %</text>
<text x="921.1" y="893.6" font-size="11.9">0.17</text>
<text x="1074.8" y="893.6" font-size="11.9">0.87</text>
<text x="803.1" y="913.4" font-size="11.9">79 %</text>
<text x="921.1" y="913.4" font-size="11.9">0.81</text>
<text x="1074.8" y="913.4" font-size="11.9">0.30</text>
</g>
<g fill="#1a1a1a" transform="translate(0.45 0)">
<text x="844.3" y="1323" font-size="14.83">GPS standard deviation : 10.0 mm</text>
<text x="838.0" y="1342.9" font-size="13.4">Data in the order of the legende :</text>
<text x="754.6" y="1358.7" font-size="13.4" xml:space="preserve">Correlation coef |  Standard deviation  | Centered pattern RMS</text>
<text x="803.1" y="1394.2" font-size="11.9">94 %</text>
<text x="921.1" y="1394.2" font-size="11.9">11.97</text>
<text x="1074.8" y="1394.2" font-size="11.9">2.09</text>
<text x="803.1" y="1414" font-size="11.9">94 %</text>
<text x="921.1" y="1414" font-size="11.9">4.64</text>
<text x="1074.8" y="1414" font-size="11.9">5.35</text>
<text x="803.1" y="1433.8" font-size="11.9">94 %</text>
<text x="921.1" y="1433.8" font-size="11.9">12.80</text>
<text x="1074.8" y="1433.8" font-size="11.9">2.91</text>
<text x="803.1" y="1453.6" font-size="11.9">89 %</text>
<text x="921.1" y="1453.6" font-size="11.9">5.24</text>
<text x="1074.8" y="1453.6" font-size="11.9">4.80</text>
<text x="803.1" y="1473.4" font-size="11.9">96 %</text>
<text x="921.1" y="1473.4" font-size="11.9">9.92</text>
<text x="1074.8" y="1473.4" font-size="11.9">0.40</text>
</g>
<rect x="746.4" y="12.4" width="427.4" height="164.5" rx="2.5" fill="#fff" stroke="#ccc" stroke-width="1"/>
<g font-size="18.36" fill="#111">
<circle cx="772.5" cy="27.2" r="9.3" fill="#fff" stroke="#222" stroke-width="1.7"/>
<text x="805.2" y="32.6">GPS</text>
<circle cx="772.5" cy="53.8" r="7.7" fill="#ff7f0e"/>
<text x="805.2" y="59.2">ATMMO + Hydro MERRA + river MERRA</text>
<circle cx="772.5" cy="80.4" r="7.7" fill="#2ca02c"/>
<text x="805.2" y="85.9">ATMMO + Hydro MERRA</text>
<circle cx="772.5" cy="107" r="7.7" fill="#d62728"/>
<text x="805.2" y="113.3">ATMMO + Hydro GLDAS + river GLDAS</text>
<circle cx="772.5" cy="133.6" r="7.7" fill="#9467bd"/>
<text x="805.2" y="139.9">ATMMO + Hydro GLDAS</text>
<circle cx="772.5" cy="160.2" r="7.7" fill="#8c564b"/>
<text x="805.2" y="165.7">GRACE</text>
</g>
<path d="M564.5 1690.6H1181" stroke="#d4d4d4" stroke-width="1"/>
</g>
</svg>
</body></html>
